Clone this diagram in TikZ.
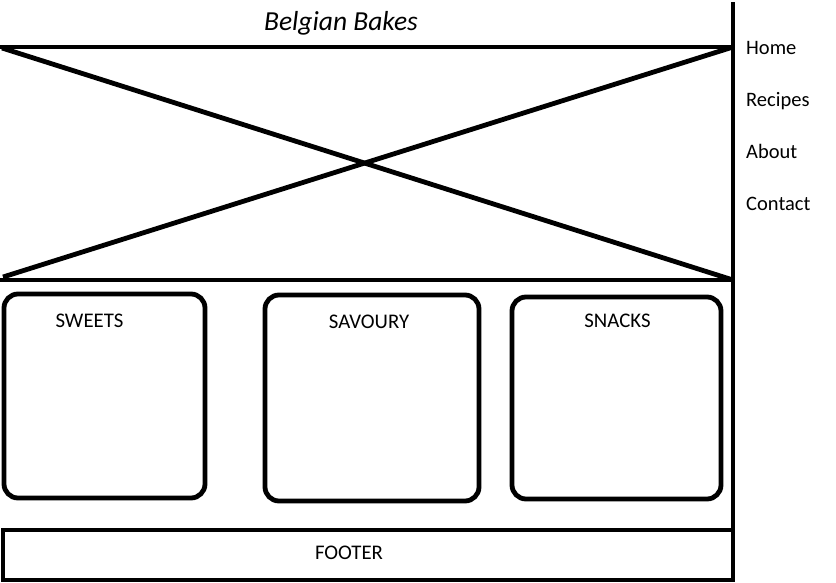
\documentclass[tikz,border=0pt]{standalone}
\usepackage{fontspec}
\setmainfont{Carlito}
\usetikzlibrary{positioning}

\begin{document}
\begin{tikzpicture}[x=1pt,y=-1pt,
        wire/.style={line width=4.8pt},
        card/.style={draw, line width=4.8pt, rounded corners=14pt, inner sep=0pt},
        caption/.style={font=\fontsize{20.8}{24}\selectfont, anchor=base, inner sep=0pt},
        navitem/.style={font=\fontsize{20.5}{24}\selectfont, anchor=base west, inner sep=0pt}]
            \useasboundingbox (0,0) rectangle (836,582);

            % page edge on the right of the content
            \coordinate (edgetop) at (733,2);
            \coordinate (edgebottom) at (733,582);
            \draw[wire] (edgetop) -- (edgebottom);

            % header image placeholder
            \coordinate (heroNW) at (0,47);
            \coordinate (heroNE) at (733,47);
            \coordinate (heroSW) at (0,280);
            \coordinate (heroSE) at (733,280);
            \coordinate (crossA) at (2,48);
            \coordinate (crossB) at (3,277);
            \draw[wire] (heroNW) -- (heroNE);
            \draw[wire] (heroSW) -- (heroSE);
            \draw[wire] (crossA) -- (heroSE);
            \draw[wire] (crossB) -- (heroNE);

            \node[font=\itshape\fontsize{27.5}{32}\selectfont, anchor=base, inner sep=0pt] (title) at (341,30) {Belgian Bakes};

            % menu
            \foreach \item/\y in {Home/54, Recipes/106, About/158, Contact/210}
                \node[navitem] (nav\item) at (746,\y) {\item};

            % three category cards
            \node[card, minimum width=201pt, minimum height=204pt] (sweets) at (104.5,396) {};
            \node[card, minimum width=214pt, minimum height=206pt] (savoury) at (372,398) {};
            \node[card, minimum width=209pt, minimum height=202pt] (snacks) at (616.5,398) {};
            \node[caption] (sweetslabel) at (89.5,327) {SWEETS};
            \node[caption] (savourylabel) at (369,328) {SAVOURY};
            \node[caption] (snackslabel) at (617.5,327) {SNACKS};

            % footer
            \node[draw, line width=4.8pt, minimum width=730pt, minimum height=50pt, inner sep=0pt] (footer) at (368,555) {};
            \node[caption] (footerlabel) at (349,559.5) {FOOTER};
        \end{tikzpicture}
\end{document}
